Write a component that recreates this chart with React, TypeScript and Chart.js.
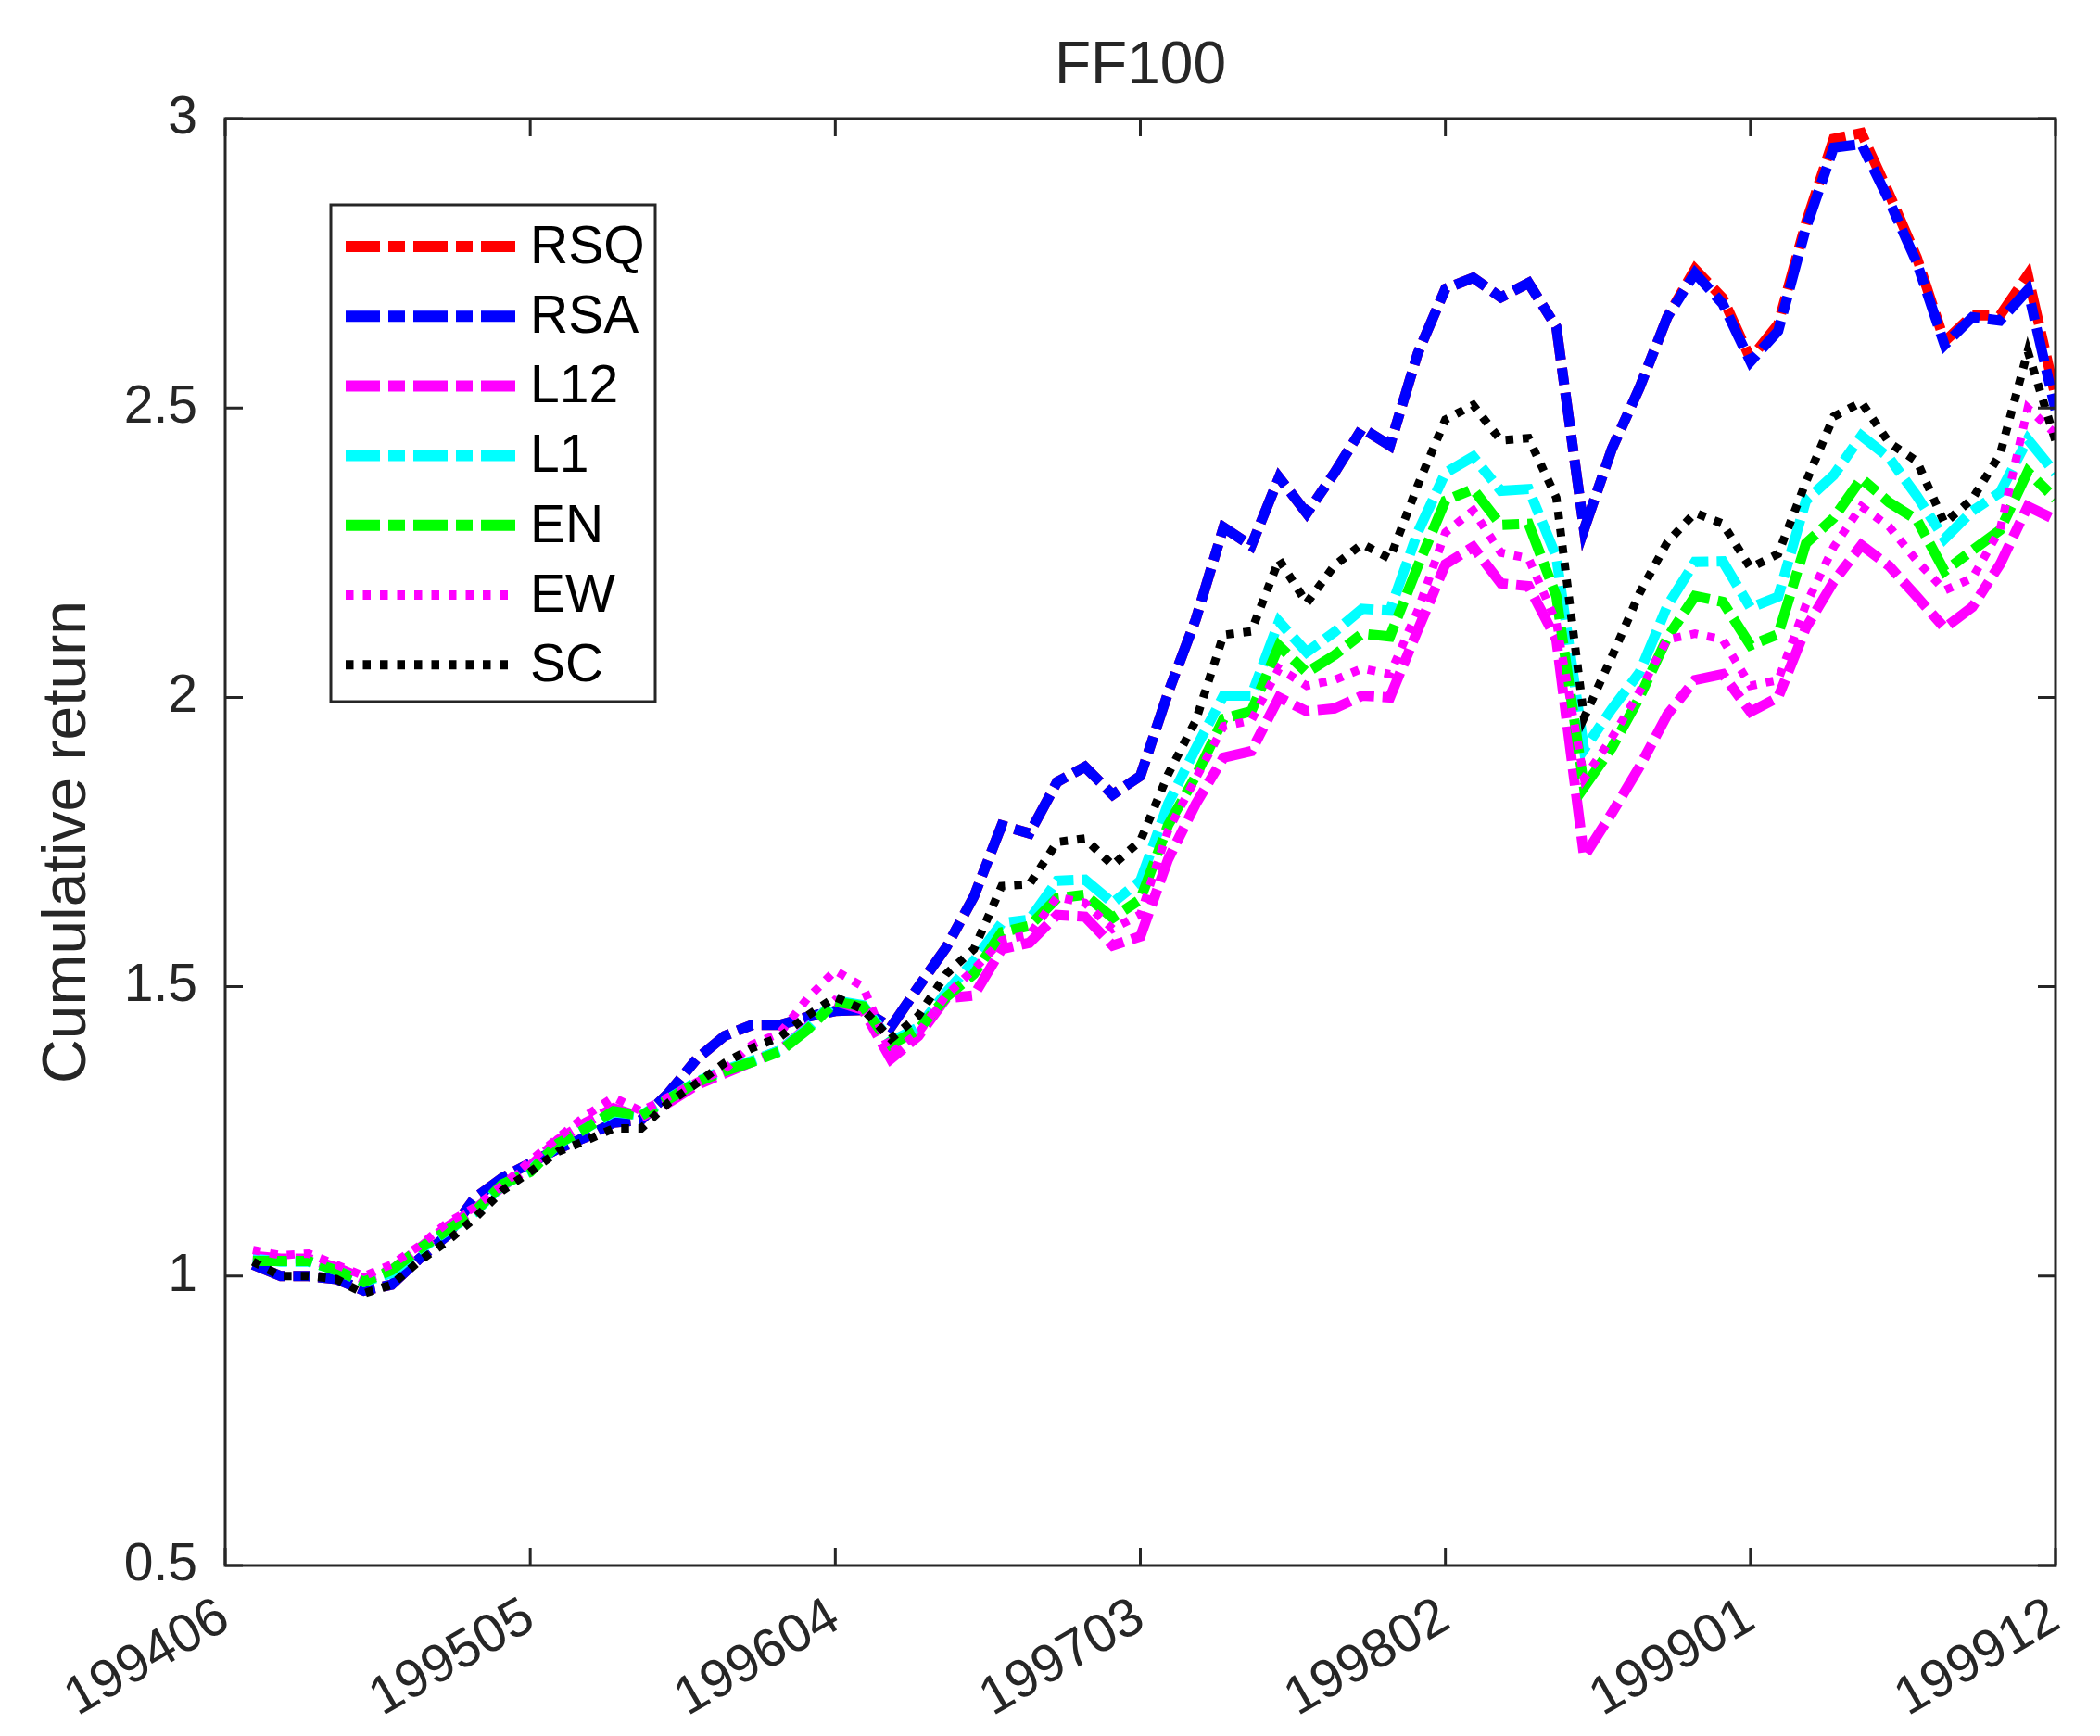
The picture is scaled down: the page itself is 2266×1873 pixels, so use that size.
import React, { useEffect, useRef } from "react";
import { Chart, registerables } from "chart.js";

Chart.register(...registerables);

// ---- Data (month index 0 = 199406, data start at month index 1) ----
const xTickIndex = [0, 11, 22, 33, 44, 55, 66];
const xTickLabels = ["199406", "199505", "199604", "199703", "199802", "199901", "199912"];
const yTickValues = [0.5, 1, 1.5, 2, 2.5, 3];
const firstMonthIndex = 1;
const chartTitle = "FF100";
const yAxisTitle = "Cumulative return";

const RSA = [
  1.02, 1.0, 1.0, 0.995, 0.975, 0.985, 1.03, 1.07, 1.135, 1.17,
  1.195, 1.22, 1.24, 1.265, 1.27, 1.317, 1.375, 1.415, 1.434, 1.434,
  1.448, 1.458, 1.46, 1.43, 1.5, 1.568, 1.656, 1.779, 1.765, 1.854,
  1.88, 1.832, 1.864, 2.008, 2.135, 2.294, 2.262, 2.38, 2.318, 2.388,
  2.465, 2.435, 2.594, 2.706, 2.725, 2.691, 2.716, 2.64, 2.29, 2.429,
  2.535, 2.657, 2.733, 2.68, 2.58, 2.633, 2.811, 2.95, 2.956, 2.858,
  2.751, 2.609, 2.657, 2.651, 2.704, 2.497,
];
const RSQ = [
  1.02, 1.0, 1.0, 0.995, 0.975, 0.985, 1.03, 1.07, 1.135, 1.17,
  1.195, 1.22, 1.24, 1.265, 1.27, 1.317, 1.375, 1.415, 1.434, 1.434,
  1.448, 1.458, 1.46, 1.43, 1.5, 1.568, 1.656, 1.779, 1.765, 1.854,
  1.88, 1.832, 1.864, 2.008, 2.135, 2.294, 2.262, 2.38, 2.318, 2.388,
  2.465, 2.435, 2.594, 2.706, 2.725, 2.691, 2.716, 2.64, 2.29, 2.429,
  2.535, 2.657, 2.74, 2.69, 2.585, 2.645, 2.82, 2.965, 2.975, 2.87,
  2.76, 2.615, 2.66, 2.66, 2.73, 2.52,
];
const L12 = [
  1.035, 1.03, 1.03, 1.015, 0.995, 1.01, 1.048, 1.085, 1.115, 1.155,
  1.19, 1.235, 1.265, 1.29, 1.275, 1.3, 1.33, 1.35, 1.37, 1.39,
  1.43, 1.475, 1.46, 1.375, 1.415, 1.48, 1.485, 1.565, 1.576, 1.624,
  1.621, 1.571, 1.587, 1.72, 1.816, 1.896, 1.907, 2.0, 1.976, 1.981,
  2.003, 2.0, 2.116, 2.23, 2.26, 2.197, 2.192, 2.1, 1.725, 1.8,
  1.88, 1.97, 2.03, 2.04, 1.975, 2.0, 2.12, 2.2, 2.263, 2.227,
  2.174, 2.12, 2.156, 2.23, 2.33, 2.307,
];
const L1 = [
  1.03, 1.025, 1.025, 1.01, 0.99, 1.005, 1.045, 1.078, 1.11, 1.158,
  1.182, 1.228, 1.255, 1.283, 1.278, 1.307, 1.336, 1.356, 1.372, 1.39,
  1.428, 1.476, 1.468, 1.405, 1.43, 1.49, 1.545, 1.61, 1.616, 1.683,
  1.685, 1.645, 1.683, 1.816, 1.912, 2.003, 2.003, 2.131, 2.078, 2.113,
  2.153, 2.15, 2.285, 2.388, 2.416, 2.357, 2.36, 2.243, 1.91, 1.98,
  2.043, 2.158, 2.234, 2.235, 2.155, 2.174, 2.34, 2.384, 2.452, 2.414,
  2.348, 2.274, 2.322, 2.354, 2.446, 2.387,
];
const EN = [
  1.026, 1.026, 1.026, 1.01, 0.99, 1.01, 1.047, 1.079, 1.111, 1.159,
  1.18, 1.229, 1.255, 1.285, 1.277, 1.306, 1.335, 1.354, 1.37, 1.388,
  1.426, 1.474, 1.466, 1.4, 1.426, 1.482, 1.522, 1.594, 1.605, 1.653,
  1.659, 1.619, 1.651, 1.779, 1.864, 1.963, 1.976, 2.089, 2.043, 2.073,
  2.11, 2.105, 2.226, 2.34, 2.36, 2.298, 2.3, 2.175, 1.845, 1.913,
  2.0, 2.103, 2.175, 2.165, 2.09, 2.109, 2.266, 2.31, 2.378, 2.337,
  2.307, 2.218, 2.254, 2.289, 2.39, 2.343,
];
const EW = [
  1.045, 1.036, 1.039, 1.02, 1.0, 1.02, 1.052, 1.092, 1.119, 1.157,
  1.199, 1.239, 1.277, 1.309, 1.285, 1.31, 1.335, 1.357, 1.4, 1.42,
  1.48, 1.528, 1.5, 1.385, 1.42, 1.485, 1.53, 1.58, 1.59, 1.655,
  1.645, 1.6, 1.625, 1.77, 1.86, 1.95, 1.96, 2.05, 2.02, 2.03,
  2.05, 2.04, 2.15, 2.285, 2.323, 2.25, 2.24, 2.13, 1.86, 1.93,
  2.01, 2.1, 2.11, 2.1, 2.02, 2.03, 2.16, 2.26, 2.33, 2.295,
  2.236, 2.185, 2.206, 2.29, 2.5, 2.455,
];
const SC = [
  1.025, 1.0, 1.0, 0.995, 0.97, 0.985, 1.026, 1.06, 1.1, 1.148,
  1.18, 1.215, 1.234, 1.255, 1.255, 1.3, 1.333, 1.368, 1.394, 1.413,
  1.45, 1.482, 1.461, 1.41, 1.45, 1.522, 1.565, 1.674, 1.677, 1.75,
  1.756, 1.71, 1.752, 1.867, 1.96, 2.108, 2.114, 2.238, 2.163, 2.228,
  2.265, 2.24, 2.366, 2.48, 2.505, 2.444, 2.448, 2.345, 1.965, 2.07,
  2.18, 2.268, 2.319, 2.3, 2.224, 2.248, 2.372, 2.485, 2.51, 2.44,
  2.408, 2.301, 2.343, 2.42, 2.598, 2.443,
];

const seriesNames = ["RSQ", "RSA", "L12", "L1", "EN", "EW", "SC"];
const seriesValues = [RSQ, RSA, L12, L1, EN, EW, SC];
const seriesColors = ["#ff0000", "#0000ff", "#ff00ff", "#00ffff", "#00ff00", "#ff00ff", "#000000"];
const seriesStyles = ["dashdot", "dashdot", "dashdot", "dashdot", "dashdot", "dotted", "dotted"];

const FONT = '"Liberation Sans", Arial, Helvetica, sans-serif';
const AXIS_COLOR = "#262626";
const DASHDOT = [37, 9, 18, 9];
const DOTTED = [8.5, 10];

const boxPlugin = {
  id: "matlabBox",
  afterDraw(chart: any) {
    const { ctx, chartArea } = chart;
    const { left, right, top, bottom } = chartArea;
    const xs = chart.scales.x;
    const ys = chart.scales.y;
    const tl = 19;
    ctx.save();

    // title centred over the axes
    ctx.fillStyle = AXIS_COLOR;
    ctx.font = `64px ${FONT}`;
    ctx.textAlign = "center";
    ctx.textBaseline = "middle";
    ctx.fillText(chartTitle, (left + right) / 2, 72);

    ctx.strokeStyle = AXIS_COLOR;
    ctx.lineWidth = 3;
    ctx.setLineDash([]);
    ctx.beginPath();
    xs.ticks.forEach((t: any) => {
      const px = xs.getPixelForValue(t.value);
      ctx.moveTo(px, bottom);
      ctx.lineTo(px, bottom - tl);
      ctx.moveTo(px, top);
      ctx.lineTo(px, top + tl);
    });
    ys.ticks.forEach((t: any) => {
      const py = ys.getPixelForValue(t.value);
      ctx.moveTo(left, py);
      ctx.lineTo(left + tl, py);
      ctx.moveTo(right, py);
      ctx.lineTo(right - tl, py);
    });
    ctx.stroke();
    ctx.strokeRect(left, top, right - left, bottom - top);

    // legend box
    const bx = left + 114;
    const by = top + 93;
    const bw = 350;
    const bh = 536;
    ctx.fillStyle = "#ffffff";
    ctx.fillRect(bx, by, bw, bh);
    ctx.strokeStyle = AXIS_COLOR;
    ctx.lineWidth = 3;
    ctx.strokeRect(bx, by, bw, bh);
    chart.data.datasets.forEach((ds: any, k: number) => {
      const cy = by + 45 + 75.2 * k;
      ctx.save();
      ctx.strokeStyle = ds.borderColor;
      ctx.lineWidth = ds.borderWidth + 1;
      ctx.lineCap = "butt";
      ctx.setLineDash(ds.borderDash);
      ctx.beginPath();
      ctx.moveTo(bx + 16, cy);
      ctx.lineTo(bx + 200, cy);
      ctx.stroke();
      ctx.restore();
      ctx.fillStyle = "#000000";
      ctx.font = `57px ${FONT}`;
      ctx.textAlign = "left";
      ctx.textBaseline = "middle";
      ctx.fillText(ds.label, bx + 215, cy + 2);
    });
    ctx.restore();
  },
};

export default function App() {
  const ref = useRef<HTMLCanvasElement>(null);
  useEffect(() => {
    const canvas = ref.current;
    if (!canvas) return;
    const datasets = seriesNames.map((name, i) => ({
      label: name,
      data: seriesValues[i].map((v, k) => ({ x: k + firstMonthIndex, y: v })),
      borderColor: seriesColors[i],
      backgroundColor: seriesColors[i],
      borderWidth: seriesStyles[i] === "dotted" ? 9 : 11,
      borderDash: seriesStyles[i] === "dotted" ? DOTTED : DASHDOT,
      borderCapStyle: "butt" as const,
      borderJoinStyle: "miter" as const,
      pointRadius: 0,
      tension: 0,
      fill: false,
      order: seriesNames.length - 1 - i,
    }));
    const chart = new Chart(canvas, {
      type: "line",
      data: { datasets },
      options: {
        animation: false,
        responsive: false,
        devicePixelRatio: 1,
        layout: { padding: { left: 0, right: 48, top: 128, bottom: 0 } },
        plugins: {
          legend: { display: false },
          tooltip: { enabled: false },
          title: { display: false },
        },
        scales: {
          x: {
            type: "linear",
            min: 0,
            max: 66,
            afterBuildTicks: (s: any) => {
              s.ticks = xTickIndex.map((v) => ({ value: v }));
            },
            afterFit: (s: any) => {
              s.height = 184;
              s.paddingLeft = 0;
              s.paddingRight = 0;
            },
            grid: { display: false, drawTicks: false },
            border: { display: false },
            ticks: {
              autoSkip: false,
              maxRotation: 30,
              minRotation: 30,
              padding: 22,
              color: AXIS_COLOR,
              font: { family: FONT, size: 58 },
              callback: (_v: any, idx: number) => xTickLabels[idx],
            },
          },
          y: {
            type: "linear",
            min: 0.5,
            max: 3,
            afterBuildTicks: (s: any) => {
              s.ticks = yTickValues.map((v) => ({ value: v }));
            },
            afterFit: (s: any) => {
              s.width = 243;
              s.paddingTop = 0;
              s.paddingBottom = 0;
            },
            grid: { display: false, drawTicks: false },
            border: { display: false },
            ticks: {
              padding: 30,
              color: AXIS_COLOR,
              font: { family: FONT, size: 57 },
              callback: (v: any) => String(v),
            },
            title: {
              display: true,
              text: yAxisTitle,
              color: AXIS_COLOR,
              font: { family: FONT, size: 66 },
              padding: { top: 34, bottom: 0 },
            },
          },
        },
      },
      plugins: [boxPlugin],
    });
    return () => chart.destroy();
  }, []);
  return (
    <div style={{ position: "fixed", left: 0, top: 0, width: 2266, height: 1873, background: "#ffffff" }}>
      <canvas ref={ref} width={2266} height={1873} style={{ width: 2266, height: 1873, display: "block" }} />
    </div>
  );
}
